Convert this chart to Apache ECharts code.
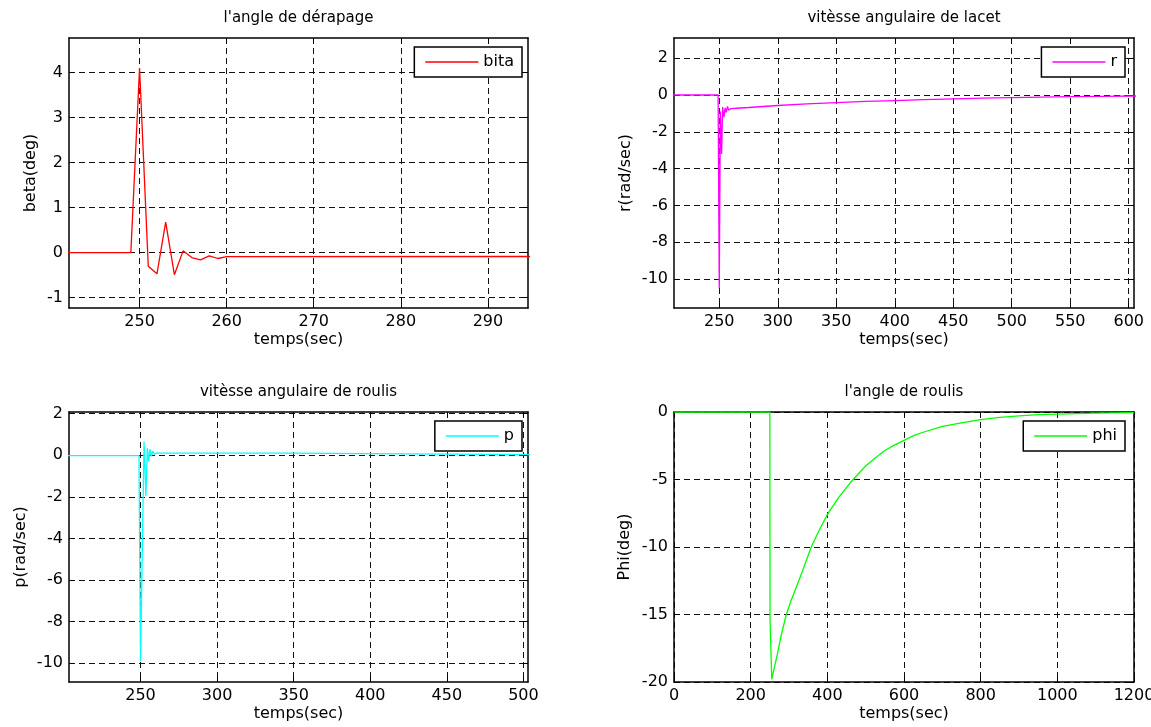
<!DOCTYPE html>
<html>
<head>
<meta charset="utf-8">
<script src="https://cdn.jsdelivr.net/npm/echarts@6/dist/echarts.min.js"></script>
<style>
html,body{margin:0;padding:0;background:#fff;}
#c{width:1151px;height:727px;}
</style>
</head>
<body>
<div id="c"></div>
<script>
// ---- data ----
const betaT = [200, 249, 250, 251, 252, 253, 254, 255, 256, 257, 258, 259, 260, 300];
const betaV = [0, 0, 4.1, -0.3, -0.47, 0.68, -0.49, 0.04, -0.11, -0.16, -0.07, -0.13, -0.09, -0.085];

const rT = [200, 249, 250, 250.9, 252, 252.9, 254, 255, 256, 257, 258, 260, 265, 275, 300, 325, 350, 375, 400, 425, 450, 475, 500, 525, 550, 575, 610];
const rV = [0, 0, -10.5, -0.9, -3.2, -0.65, -1.2, -0.7, -0.95, -0.62, -0.82, -0.74, -0.72, -0.68, -0.57, -0.48, -0.41, -0.35, -0.3, -0.25, -0.21, -0.17, -0.14, -0.11, -0.09, -0.07, -0.05];

const pT = [200, 249, 250, 252.3, 253.5, 254.5, 255.3, 256.2, 257, 258, 259, 260.5, 262, 345, 346, 510];
const pV = [-0.02, -0.02, -9.9, 0.65, -1.95, 0.35, -0.3, 0.3, -0.05, 0.2, 0.05, 0.12, 0.1, 0.1, 0.03, 0.03];

const phiT = [0, 250, 250.5, 255, 262, 270, 280, 293, 305, 320, 335, 358, 378, 400, 430, 467, 500, 525, 550, 575, 600, 625, 650, 700, 750, 800, 850, 900, 950, 1000, 1100, 1200];
const phiV = [0, 0, -15.3, -19.8, -18.9, -17.9, -16.5, -15, -14.0, -12.9, -11.8, -10, -8.8, -7.6, -6.3, -5, -4, -3.4, -2.85, -2.45, -2.1, -1.75, -1.5, -1.07, -0.8, -0.57, -0.4, -0.29, -0.2, -0.15, -0.08, -0.04];

const ticks1X = [250, 260, 270, 280, 290];
const ticks1Y = [-1, 0, 1, 2, 3, 4];
const ticks2X = [250, 300, 350, 400, 450, 500, 550, 600];
const ticks2Y = [-10, -8, -6, -4, -2, 0, 2];
const ticks3X = [250, 300, 350, 400, 450, 500];
const ticks3Y = [-10, -8, -6, -4, -2, 0, 2];

const titles = ["l'angle de dérapage", "vitèsse angulaire de lacet", "vitèsse angulaire de roulis", "l'angle de roulis"];
const yNames = ["beta(deg)", "r(rad/sec)", "p(rad/sec)", "Phi(deg)"];
const xName = "temps(sec)";
const seriesNames = ["bita", "r", "p", "phi"];
const colors = ["#ff0000", "#ff00ff", "#00ffff", "#00ff00"];

// ---- layout ----
const FONT = "DejaVu Sans";
const grids = [
  {left: 69, top: 38, width: 459, height: 270, outerBoundsMode: 'none', containLabel: false},
  {left: 674, top: 38, width: 460, height: 270, outerBoundsMode: 'none', containLabel: false},
  {left: 69, top: 412, width: 459, height: 270, outerBoundsMode: 'none', containLabel: false},
  {left: 674, top: 412, width: 460, height: 270, outerBoundsMode: 'none', containLabel: false}
];
const xRanges = [[241.9, 294.6], [211.3, 604.5], [203.3, 503], [0, 1200]];
const yRanges = [[-1.23, 4.77], [-11.58, 3.1], [-10.9, 2.08], [-20, 0]];
const xTicks = [ticks1X, ticks2X, ticks3X, null];
const yTicks = [ticks1Y, ticks2Y, ticks3Y, null];
const yNameGaps = [30, 40, 40, 41];

function zip(a, b) { return a.map((t, i) => [t, b[i]]); }
const dataSets = [zip(betaT, betaV), zip(rT, rV), zip(pT, pV), zip(phiT, phiV)];

const xAxes = [], yAxes = [], series = [], legends = [], titleList = [];

function axisBase(isMain, ticks, interval, min, max) {
  const a = {
    type: 'value', min: min, max: max,
    axisLine: {show: true, onZero: false, lineStyle: {color: '#000', width: 1.5}},
    axisTick: {show: true, inside: true, length: 5, lineStyle: {color: '#000', width: 1}},
    axisLabel: {show: isMain, color: '#000', fontFamily: FONT, fontSize: 16, margin: 6,
      showMinLabel: true, showMaxLabel: true, formatter: v => String(v)},
    splitLine: {show: isMain, lineStyle: {color: '#111', width: 1, type: [6, 4]}}
  };
  if (ticks) {
    a.axisTick.customValues = ticks;
    a.axisLabel.customValues = ticks;
  } else {
    a.interval = interval;
  }
  return a;
}

for (let i = 0; i < 4; i++) {
  const xi = xRanges[i], yi = yRanges[i];
  const xb = axisBase(true, xTicks[i], 200, xi[0], xi[1]);
  Object.assign(xb, {gridIndex: i, position: 'bottom', name: xName, nameLocation: 'middle', nameGap: 24,
    nameTextStyle: {color: '#000', fontFamily: FONT, fontSize: 16}});
  const xt = axisBase(false, xTicks[i], 200, xi[0], xi[1]);
  Object.assign(xt, {gridIndex: i, position: 'top'});
  xAxes.push(xb, xt);

  const yl = axisBase(true, yTicks[i], 5, yi[0], yi[1]);
  Object.assign(yl, {gridIndex: i, position: 'left', name: yNames[i], nameLocation: 'middle', nameGap: yNameGaps[i],
    nameTextStyle: {color: '#000', fontFamily: FONT, fontSize: 16}});
  const yr = axisBase(false, yTicks[i], 5, yi[0], yi[1]);
  Object.assign(yr, {gridIndex: i, position: 'right'});
  yAxes.push(yl, yr);

  series.push({
    name: seriesNames[i], type: 'line', xAxisIndex: 2 * i, yAxisIndex: 2 * i,
    data: dataSets[i], symbol: 'none', showSymbol: false, clip: true, animation: false,
    color: colors[i], lineStyle: {color: colors[i], width: 1.3}, itemStyle: {color: colors[i]}
  });

  const g = grids[i];
  legends.push({
    data: [seriesNames[i]], orient: 'horizontal',
    right: 1151 - (g.left + g.width) + (i % 2 === 0 ? 6 : 9),
    top: g.top + 9,
    icon: 'rect', itemWidth: 53, itemHeight: 1.5,
    padding: [7, 8, 7, 11],
    borderColor: '#000', borderWidth: 1.5, backgroundColor: '#fff',
    selectedMode: false,
    textStyle: {color: '#000', fontFamily: FONT, fontSize: 16}
  });

  titleList.push({
    text: titles[i], left: g.left + g.width / 2, top: g.top - 27, textAlign: 'center', padding: 0,
    textStyle: {color: '#000', fontFamily: FONT, fontSize: 15, fontWeight: 'normal'}
  });
}

const chart = echarts.init(document.getElementById('c'), null, {renderer: 'canvas'});
chart.setOption({
  animation: false,
  backgroundColor: '#fff',
  title: titleList,
  legend: legends,
  grid: grids,
  xAxis: xAxes,
  yAxis: yAxes,
  series: series
});
</script>
</body>
</html>
